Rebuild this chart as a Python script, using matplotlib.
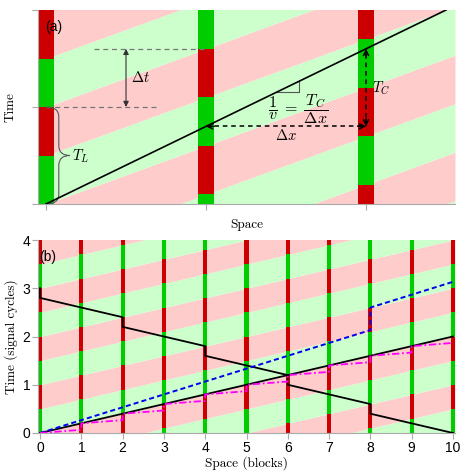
import numpy as np
import matplotlib
matplotlib.use("Agg")
import matplotlib.pyplot as plt
from matplotlib.path import Path
from matplotlib.patches import PathPatch

plt.rcParams['mathtext.fontset'] = 'cm'
plt.rcParams['font.family'] = ['Liberation Sans', 'DejaVu Sans']

# colours
RED, GREEN = '#cc0000', '#00cc00'
PINK, LGREEN = '#ffcccc', '#ccffcc'

# ---- panel (a) data (schematic) ----
sig_x_a = [0, 1, 2]            # signal positions
sig_off_a = [0.0, 0.6, 0.2]    # start of green (cycles)
slope_a = 0.6                  # green-wave offset per unit
wave_x_a = [0, 2.5]
wave_t_a = [0, 2.0]

# ---- panel (b) data ----
sig_x_b = [0, 1, 2, 3, 4, 5, 6, 7, 8, 9, 10]
sig_off_b = [0.0, 0.2, 0.4, 0.6, 0.8, 0.0, 0.2, 0.4, 0.6, 0.8, 0.0]
slope_b = 0.2

fwd_x = [0, 10]
fwd_t = [0, 2.0]
back_x = [0, 0, 2, 2, 4, 4, 6, 6, 8, 8, 10]
back_t = [3.0, 2.8, 2.4, 2.2, 1.8, 1.6, 1.2, 1.0, 0.6, 0.4, 0.0]
blue_x = [0, 8, 8, 10]
blue_t = [0, 2.133, 2.6, 3.133]
mag_x = [0, 1, 1, 2, 2, 3, 3, 4, 4, 5, 5, 6, 6, 7, 7, 8, 8, 9, 9, 10]
mag_t = [0, 0.067, 0.2, 0.267, 0.4, 0.467, 0.6, 0.667, 0.8, 0.867, 1.0,
         1.067, 1.2, 1.267, 1.4, 1.467, 1.6, 1.667, 1.8, 1.867]

serif = 'cmr10'


def draw_background(ax, xlim, slope, kmin, kmax):
    xx = np.array(xlim)
    for k in range(kmin, kmax):
        col = LGREEN if k % 2 == 0 else PINK
        ax.fill_between(xx, 0.5 * k + slope * xx, 0.5 * (k + 1) + slope * xx,
                        color=col, linewidth=0, zorder=0)


def draw_signals(ax, xs, offs, width=0.1):
    for xi, off in zip(xs, offs):
        for k in range(-3, 6):
            ax.bar(xi, 0.5, bottom=off + k, width=width, color=GREEN, linewidth=0, zorder=1)
            ax.bar(xi, 0.5, bottom=off + k + 0.5, width=width, color=RED, linewidth=0, zorder=1)


def style_axes(ax):
    for s in ['top', 'right']:
        ax.spines[s].set_visible(False)
    for s in ['left', 'bottom']:
        ax.spines[s].set_color('#aaaaaa')
        ax.spines[s].set_linewidth(0.8)
    ax.tick_params(direction='out', length=4, color='#aaaaaa', width=0.8)


fig = plt.figure(figsize=(4.69, 4.76), dpi=100)

# ================= panel (a) =================
ax = fig.add_axes([38 / 469, 1 - 204 / 476, 417 / 469, 194 / 476])
xlim_a = (-0.05, 2.556)
draw_background(ax, xlim_a, slope_a, -6, 6)
draw_signals(ax, sig_x_a, sig_off_a)
ax.plot(wave_x_a, wave_t_a, color='k', lw=1.2, zorder=4)
ax.set_xlim(xlim_a)
ax.set_ylim(0, 2)
ax.set_xticks(sig_x_a)
ax.set_yticks([0, 1, 2])
ax.set_xticklabels([])
ax.set_yticklabels([])
style_axes(ax)
ax.set_xlabel('Space', fontfamily=serif, fontsize=9.5, labelpad=3)
ax.set_ylabel('Time', fontfamily=serif, fontsize=9.5, labelpad=8)
ax.text(0.05, 1.82, '(a)', fontsize=10, ha='center', va='center')

# dashed guides for delta t
ax.plot([0, 0.7], [1, 1], ls=(0, (4, 3)), color='#777777', lw=0.9, zorder=3)
ax.plot([0.3, 1.0], [1.6, 1.6], ls=(0, (4, 3)), color='#777777', lw=0.9, zorder=3)
ax.annotate('', xy=(0.5, 1.0), xytext=(0.5, 1.6),
            arrowprops=dict(arrowstyle='<|-|>', color='#333333', lw=0.8,
                            mutation_scale=8, shrinkA=0, shrinkB=0), zorder=3)
ax.text(0.53, 1.3, r'$\Delta t$', fontsize=10.5, ha='left', va='center')

# brace for T_L
x0, w, y0, y1 = 0.0, 0.15, 0.0, 1.0
xm, ym, r = x0 + 0.08, 0.5 * (y0 + y1), 0.1
verts = [(x0, y1), (xm, y1), (xm, y1 - r), (xm, ym + r), (xm, ym), (x0 + w, ym),
         (xm, ym), (xm, ym - r), (xm, y0 + r), (xm, y0), (x0, y0)]
codes = [Path.MOVETO, Path.CURVE3, Path.CURVE3, Path.LINETO, Path.CURVE3, Path.CURVE3,
         Path.CURVE3, Path.CURVE3, Path.LINETO, Path.CURVE3, Path.CURVE3]
ax.add_patch(PathPatch(Path(verts, codes), fill=False, ec='#555555', lw=0.8, zorder=3))
ax.text(0.16, 0.49, r'$T_L$', fontsize=10.5, ha='left', va='center')

# delta x and T_C arrows (dashed)
ax.plot([1, 2], [0.8, 0.8], ls=(0, (3, 2.5)), color='k', lw=1.1, zorder=4)
ax.plot([2, 2], [0.8, 1.6], ls=(0, (3, 2.5)), color='k', lw=1.1, zorder=4)
for (xa, ya), (xb, yb) in [((1, 0.8), (1.05, 0.8)), ((2, 0.8), (1.95, 0.8)),
                           ((2, 0.8), (2, 0.88)), ((2, 1.6), (2, 1.52))]:
    ax.annotate('', xy=(xa, ya), xytext=(xb, yb),
                arrowprops=dict(arrowstyle='->', color='k', lw=1.1,
                                mutation_scale=9, shrinkA=0, shrinkB=0), zorder=5)
ax.text(1.5, 0.71, r'$\Delta x$', fontsize=10.5, ha='center', va='center')
ax.text(2.04, 1.19, r'$T_C$', fontsize=10.5, ha='left', va='center')

# slope triangle
s = wave_t_a[1] / wave_x_a[1]
tx1, tx2 = 1.44, 1.58
ax.plot([tx1, tx2, tx2], [s * tx1, s * tx1, s * tx2], color='#555555', lw=0.8, zorder=3)
ax.text(1.575, 0.98, r'$\dfrac{1}{v}\;=\;\dfrac{T_C}{\Delta x}$', fontsize=11.5,
        ha='center', va='center')

# ================= panel (b) =================
ax = fig.add_axes([38 / 469, 1 - 433 / 476, 417 / 469, 193 / 476])
xlim_b = (-0.05, 10.05)
draw_background(ax, xlim_b, slope_b, -6, 10)
draw_signals(ax, sig_x_b, sig_off_b)
ax.plot(fwd_x, fwd_t, color='k', lw=1.3, zorder=4)
ax.plot(back_x, back_t, color='k', lw=1.3, zorder=4)
ax.plot(blue_x, blue_t, color='#0000ee', lw=1.4, ls=(0, (2.6, 1.6)), zorder=4)
ax.plot(mag_x, mag_t, color='#ff00ff', lw=1.3, ls=(0, (4, 1.5, 1, 1.5)), zorder=4)
ax.set_xlim(xlim_b)
ax.set_ylim(0, 4)
ax.set_xticks(sig_x_b)
ax.set_yticks([0, 1, 2, 3, 4])
style_axes(ax)
ax.tick_params(labelsize=10, pad=1.5)
ax.set_xlabel('Space (blocks)', fontfamily=serif, fontsize=9.5, labelpad=1)
ax.set_ylabel('Time (signal cycles)', fontfamily=serif, fontsize=9.5, labelpad=3)
ax.text(0.19, 3.65, '(b)', fontsize=10, ha='center', va='center')

fig.savefig('out.png', dpi=100)
